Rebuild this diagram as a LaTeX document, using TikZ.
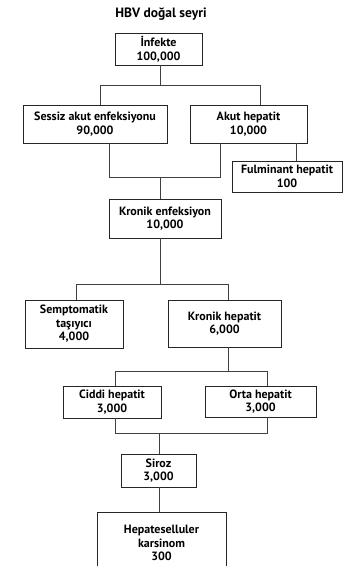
\documentclass[tikz,border=0pt]{standalone}
\usepackage{fontspec}
\setmainfont{PT Sans}
\tikzset{
  box/.style={draw=black!85, line width=0.9pt, align=center, inner sep=0pt,
    font=\bfseries\fontsize{12}{13.5}\selectfont},
  link/.style={draw=black!75, line width=0.8pt}
}
\begin{document}
\begin{tikzpicture}[x=1pt, y=-1pt]

    % Page frame, the last box runs off the bottom edge
    \useasboundingbox (0,0) rectangle (351,566);
    \clip (0,0) rectangle (351,566);

    % Title
    \node[font=\bfseries\fontsize{13.5}{15}\selectfont] (title) at (161,14) {HBV doğal seyri};

    % Boxes, placed at their centres
    \node[box, minimum width=87pt, minimum height=32pt] (inf) at (158.5,49) {İnfekte\\100,000};
    \node[box, minimum width=144pt, minimum height=38pt] (ses) at (95,124) {Sessiz akut enfeksiyonu\\90,000};
    \node[box, minimum width=117pt, minimum height=38pt] (akut) at (248.5,124) {Akut hepatit\\10,000};
    \node[box, minimum width=110pt, minimum height=31pt] (ful) at (287,176.5) {Fulminant hepatit\\100};
    \node[box, minimum width=112pt, minimum height=39pt] (kron) at (165,218.5) {Kronik enfeksiyon\\10,000};
    \node[box, minimum width=98pt, minimum height=48pt] (sem) at (74,324) {Semptomatik\\taşıyıcı\\4,000};
    \node[box, minimum width=113pt, minimum height=47pt] (kh) at (224.5,323.5) {Kronik hepatit\\6,000};
    \node[box, minimum width=98pt, minimum height=32pt] (cid) at (112,402) {Ciddi hepatit\\3,000};
    \node[box, minimum width=111pt, minimum height=31pt] (orta) at (260.5,401.5) {Orta hepatit\\3,000};
    \node[box, minimum width=75pt, minimum height=33pt] (sir) at (158.5,470.5) {Siroz\\3,000};
    \node[box, minimum width=129pt, minimum height=62pt] (hcc) at (161.5,543) {Hepateselluler\\karsinom\\300};

    % Junction points of the connectors
    \coordinate (a1) at (100,85);
    \coordinate (a2) at (260,85);
    \coordinate (a0) at (160,85);
    \coordinate (f1) at (296,0);
    \coordinate (b1) at (109,177);
    \coordinate (b2) at (220,177);
    \coordinate (b0) at (160,177);
    \coordinate (c1) at (76,284);
    \coordinate (c2) at (228,284);
    \coordinate (c0) at (160,284);
    \coordinate (d1) at (115,371);
    \coordinate (d2) at (267,371);
    \coordinate (d0) at (228,371);
    \coordinate (e1) at (115,433);
    \coordinate (e2) at (267,433);
    \coordinate (e0) at (159,433);

    % Infekte splits in two
    \draw[link] (a0 |- inf.south) -- (a0);
    \draw[link] (a1 |- ses.north) -- (a1) -- (a2) -- (a2 |- akut.north);

    % Akut hepatit to fulminant
    \draw[link] (f1 |- akut.south) -- (f1 |- ful.north);

    % Both join into kronik enfeksiyon
    \draw[link] (b1 |- ses.south) -- (b1) -- (b2) -- (b2 |- akut.south);
    \draw[link] (b0) -- (b0 |- kron.north);

    % Kronik enfeksiyon splits in two
    \draw[link] (c0 |- kron.south) -- (c0);
    \draw[link] (c1 |- sem.north) -- (c1) -- (c2) -- (c2 |- kh.north);

    % Kronik hepatit splits in two
    \draw[link] (d0 |- kh.south) -- (d0);
    \draw[link] (d1 |- cid.north) -- (d1) -- (d2) -- (d2 |- orta.north);

    % Both join into siroz
    \draw[link] (e1 |- cid.south) -- (e1) -- (e2) -- (e2 |- orta.south);
    \draw[link] (e0) -- (e0 |- sir.north);

    % Siroz to karsinom
    \draw[link] (e0 |- sir.south) -- (e0 |- hcc.north);

\end{tikzpicture}
\end{document}
